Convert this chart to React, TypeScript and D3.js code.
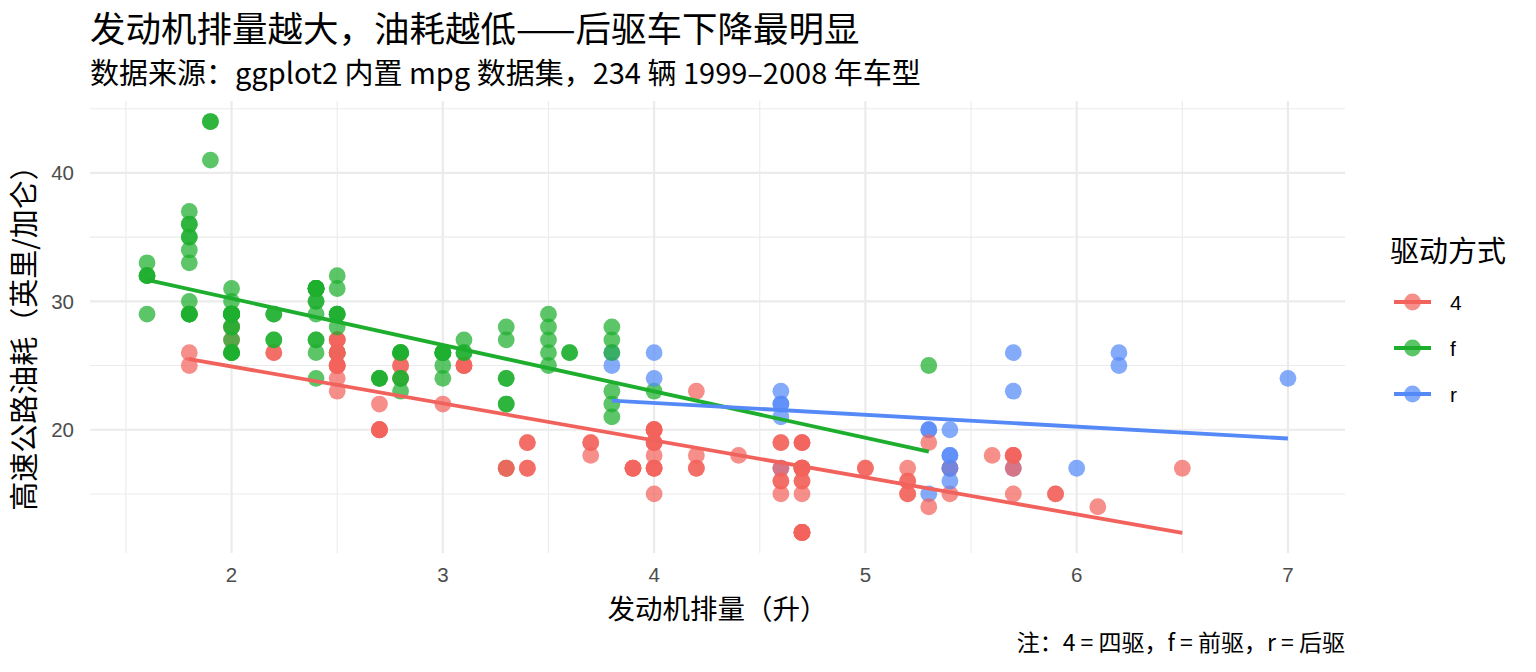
import React from "react";
import * as d3 from "d3";

const WIDTH = 1536;
const HEIGHT = 672;
const MARGIN = { top: 101, right: 191, bottom: 119, left: 90 };
const FONT = "'Noto Sans CJK SC', 'Noto Sans', sans-serif";
const FONT_TICK = "'Liberation Sans', Arial, sans-serif";

// mpg: displ, hwy, drv (dataset order)
const displ = [
  1.8, 1.8, 2.0, 2.0, 2.8, 2.8, 3.1, 1.8, 1.8, 2.0, 2.0, 2.8, 2.8, 3.1, 3.1, 2.8, 3.1, 4.2,
  5.3, 5.3, 5.3, 5.7, 6.0, 5.7, 5.7, 6.2, 6.2, 7.0, 5.3, 5.3, 5.7, 6.5,
  2.4, 2.4, 3.1, 3.5, 3.6, 2.4, 3.0, 3.3, 3.3, 3.3, 3.3, 3.3, 3.8, 3.8, 3.8, 4.0,
  3.7, 3.7, 3.9, 3.9, 4.7, 4.7, 4.7, 5.2, 5.2, 3.9, 4.7, 4.7, 4.7, 5.2, 5.7, 5.9,
  4.7, 4.7, 4.7, 4.7, 4.7, 4.7, 5.2, 5.2, 5.7, 5.9, 4.6, 5.4, 5.4,
  4.0, 4.0, 4.0, 4.0, 4.6, 5.0, 4.2, 4.2, 4.6, 4.6, 4.6, 5.4, 5.4,
  3.8, 3.8, 4.0, 4.0, 4.6, 4.6, 4.6, 4.6, 5.4,
  1.6, 1.6, 1.6, 1.6, 1.6, 1.8, 1.8, 1.8, 2.0,
  2.4, 2.4, 2.4, 2.4, 2.5, 2.5, 3.3, 2.0, 2.0, 2.0, 2.0, 2.7, 2.7, 2.7,
  3.0, 3.7, 4.0, 4.7, 4.7, 4.7, 5.7, 6.1, 4.0, 4.2, 4.4, 4.6, 5.4, 5.4, 5.4,
  4.0, 4.0, 4.6, 5.0, 2.4, 2.4, 2.5, 2.5, 3.5, 3.5, 3.0, 3.0, 3.5, 3.3, 3.3, 4.0, 5.6,
  3.1, 3.8, 3.8, 3.8, 5.3, 2.5, 2.5, 2.5, 2.5, 2.5, 2.5, 2.2, 2.2, 2.5, 2.5, 2.5, 2.5, 2.5, 2.5,
  2.7, 2.7, 3.4, 3.4, 4.0, 4.7, 2.2, 2.2, 2.4, 2.4, 3.0, 3.0, 3.5, 2.2, 2.2, 2.4, 2.4, 3.0, 3.0, 3.3,
  1.8, 1.8, 1.8, 1.8, 1.8, 4.7, 5.7, 2.7, 2.7, 2.7, 3.4, 3.4, 4.0, 4.0,
  2.0, 2.0, 2.0, 2.0, 2.8, 1.9, 2.0, 2.0, 2.0, 2.0, 2.5, 2.5, 2.8, 2.8,
  1.9, 1.9, 2.0, 2.0, 2.5, 2.5, 1.8, 1.8, 2.0, 2.0, 2.8, 2.8, 3.6,
];
const hwy = [
  29, 29, 31, 30, 26, 26, 27, 26, 25, 28, 27, 25, 25, 25, 25, 24, 25, 23,
  20, 15, 20, 17, 17, 26, 23, 26, 25, 24, 19, 14, 15, 17,
  27, 30, 26, 29, 26, 24, 24, 22, 22, 24, 24, 17, 22, 21, 23, 23,
  19, 18, 17, 17, 19, 19, 12, 17, 15, 17, 17, 12, 17, 16, 18, 15,
  16, 12, 17, 17, 16, 12, 15, 16, 17, 15, 17, 17, 18,
  17, 19, 19, 17, 19, 17, 17, 17, 16, 16, 17, 15, 17,
  26, 25, 26, 24, 21, 22, 23, 22, 20,
  33, 32, 32, 29, 32, 34, 36, 36, 29,
  26, 27, 30, 31, 26, 26, 28, 26, 29, 28, 27, 24, 24, 24,
  22, 19, 20, 17, 12, 19, 18, 14, 15, 18, 18, 15, 17, 16, 18,
  17, 19, 19, 17, 29, 31, 31, 32, 27, 26, 26, 25, 25, 17, 17, 20, 18,
  26, 26, 27, 28, 25, 25, 24, 27, 25, 26, 23, 26, 26, 26, 26, 27, 25, 25, 27,
  20, 20, 19, 17, 20, 17, 29, 27, 31, 31, 26, 26, 28, 27, 29, 31, 31, 26, 26, 27,
  30, 33, 35, 37, 35, 15, 18, 20, 20, 22, 17, 19, 18, 20,
  29, 26, 29, 29, 24, 44, 29, 26, 29, 29, 29, 29, 23, 24,
  44, 41, 29, 26, 28, 29, 29, 29, 28, 29, 26, 26, 26,
];
const drv = [
  "f", "f", "f", "f", "f", "f", "f", "4", "4", "4", "4", "4", "4", "4", "4", "4", "4", "4",
  "r", "r", "r", "r", "r", "r", "r", "r", "r", "r", "4", "4", "4", "4",
  "f", "f", "f", "f", "f", "f", "f", "f", "f", "f", "f", "f", "f", "f", "f", "f",
  "4", "4", "4", "4", "4", "4", "4", "4", "4", "4", "4", "4", "4", "4", "4", "4",
  "4", "4", "4", "4", "4", "4", "4", "4", "4", "4", "r", "r", "r",
  "4", "4", "4", "4", "4", "4", "4", "4", "4", "4", "4", "4", "4",
  "r", "r", "r", "r", "r", "r", "r", "r", "r",
  "f", "f", "f", "f", "f", "f", "f", "f", "f",
  "f", "f", "f", "f", "f", "f", "f", "f", "f", "f", "f", "f", "f", "f",
  "4", "4", "4", "4", "4", "4", "4", "4", "4", "4", "4", "4", "r", "r", "r",
  "4", "4", "4", "4", "f", "f", "f", "f", "f", "f", "f", "f", "f", "4", "4", "4", "4",
  "f", "f", "f", "f", "f", "4", "4", "4", "4", "4", "4", "4", "4", "4", "4", "4", "4", "4", "4",
  "4", "4", "4", "4", "4", "4", "f", "f", "f", "f", "f", "f", "f", "f", "f", "f", "f", "f", "f", "f",
  "f", "f", "f", "f", "f", "4", "4", "4", "4", "4", "4", "4", "4", "4",
  "f", "f", "f", "f", "f", "f", "f", "f", "f", "f", "f", "f", "f", "f",
  "f", "f", "f", "f", "f", "f", "f", "f", "f", "f", "f", "f", "f",
];

const drvLevels = ["4", "f", "r"];
const drvColors = ["#F2625C", "#1DAE2E", "#5589F8"];
const xTicks = [2, 3, 4, 5, 6, 7];
const yTicks = [20, 30, 40];

const TITLE = "发动机排量越大，油耗越低——后驱车下降最明显";
const SUBTITLE = "数据来源：ggplot2 内置 mpg 数据集，234 辆 1999–2008 年车型";
const X_TITLE = "发动机排量（升）";
const Y_TITLE = "高速公路油耗（英里/加仑）";
const LEGEND_TITLE = "驱动方式";
const CAPTION = "注：4 = 四驱，f = 前驱，r = 后驱";

type Pt = { x: number; y: number; d: string };

const points: Pt[] = displ.map((x, i) => ({ x, y: hwy[i], d: drv[i] }));

// least squares fit per group, drawn over that group's x range
const fitLine = (pts: Pt[]) => {
  const mx = d3.mean(pts, (p) => p.x) || 0;
  const my = d3.mean(pts, (p) => p.y) || 0;
  const sxy = d3.sum(pts, (p) => (p.x - mx) * (p.y - my));
  const sxx = d3.sum(pts, (p) => (p.x - mx) * (p.x - mx));
  const b = sxy / sxx;
  const a = my - b * mx;
  const [x0, x1] = d3.extent(pts, (p) => p.x) as [number, number];
  return [
    [x0, a + b * x0],
    [x1, a + b * x1],
  ];
};

export default function App() {
  const boundsWidth = WIDTH - MARGIN.left - MARGIN.right;
  const boundsHeight = HEIGHT - MARGIN.top - MARGIN.bottom;

  const xExt = d3.extent(displ) as [number, number];
  const yExt = d3.extent(hwy) as [number, number];
  const xPad = (xExt[1] - xExt[0]) * 0.05;
  const yPad = (yExt[1] - yExt[0]) * 0.05;

  const xScale = d3
    .scaleLinear()
    .domain([xExt[0] - xPad, xExt[1] + xPad])
    .range([0, boundsWidth]);
  const yScale = d3
    .scaleLinear()
    .domain([yExt[0] - yPad, yExt[1] + yPad])
    .range([boundsHeight, 0]);
  const color = d3.scaleOrdinal<string, string>().domain(drvLevels).range(drvColors);

  const xMinor = d3.range(1.5, 7.3, 1);
  const yMinor = [15, 25, 35, 45];

  const line = d3
    .line<number[]>()
    .x((d) => xScale(d[0]))
    .y((d) => yScale(d[1]));

  return (
    <svg width={WIDTH} height={HEIGHT} style={{ display: "block", margin: "-8px" }} fontFamily={FONT}>
      <rect width={WIDTH} height={HEIGHT} fill="#ffffff" />
      <text x={90} y={42} fontSize={35.5} fill="#000">
        {TITLE}
      </text>
      <text x={90} y={84} fontSize={29} fill="#000">
        {SUBTITLE}
      </text>

      <g transform={`translate(${MARGIN.left},${MARGIN.top})`}>
        {xMinor.map((t) => (
          <line key={"xm" + t} x1={xScale(t)} x2={xScale(t)} y1={0} y2={boundsHeight} stroke="#ebebeb" strokeWidth={1.1} />
        ))}
        {yMinor.map((t) => (
          <line key={"ym" + t} x1={0} x2={boundsWidth} y1={yScale(t)} y2={yScale(t)} stroke="#ebebeb" strokeWidth={1.1} />
        ))}
        {xTicks.map((t) => (
          <line key={"xg" + t} x1={xScale(t)} x2={xScale(t)} y1={0} y2={boundsHeight} stroke="#ebebeb" strokeWidth={2.2} />
        ))}
        {yTicks.map((t) => (
          <line key={"yg" + t} x1={0} x2={boundsWidth} y1={yScale(t)} y2={yScale(t)} stroke="#ebebeb" strokeWidth={2.2} />
        ))}

        {points.map((p, i) => (
          <circle key={i} cx={xScale(p.x)} cy={yScale(p.y)} r={8.4} fill={color(p.d)} opacity={0.72} />
        ))}

        {drvLevels.map((lv) => (
          <path
            key={"fit" + lv}
            d={line(fitLine(points.filter((p) => p.d === lv))) || ""}
            fill="none"
            stroke={color(lv)}
            strokeWidth={3.8}
          />
        ))}

        {xTicks.map((t) => (
          <text key={"xt" + t} x={xScale(t)} y={boundsHeight + 29} textAnchor="middle" fontSize={20.5} fill="#4d4d4d" fontFamily={FONT_TICK}>
            {t}
          </text>
        ))}
        {yTicks.map((t) => (
          <text key={"yt" + t} x={-16} y={yScale(t)} dy="0.36em" textAnchor="end" fontSize={20.5} fill="#4d4d4d" fontFamily={FONT_TICK}>
            {t}
          </text>
        ))}
      </g>

      <text x={MARGIN.left + boundsWidth / 2} y={619} textAnchor="middle" fontSize={27.5} fill="#000">
        {X_TITLE}
      </text>
      <text
        transform={`translate(35,${MARGIN.top + boundsHeight / 2 + 4}) rotate(-90)`}
        textAnchor="middle"
        fontSize={29}
        fill="#000"
      >
        {Y_TITLE}
      </text>
      <text x={MARGIN.left + boundsWidth} y={651} textAnchor="end" fontSize={23} fill="#000">
        {CAPTION}
      </text>

      <g>
        <text x={1390} y={262} fontSize={29} fill="#000">
          {LEGEND_TITLE}
        </text>
        {drvLevels.map((lv, i) => {
          const cy = 302 + i * 46;
          return (
            <g key={"lg" + lv}>
              <line x1={1394} x2={1431} y1={cy} y2={cy} stroke={color(lv)} strokeWidth={3.8} />
              <circle cx={1412.5} cy={cy} r={8.4} fill={color(lv)} opacity={0.72} />
              <text x={1450} y={cy} dy="0.36em" fontSize={21} fill="#000" fontFamily={FONT_TICK}>
                {lv}
              </text>
            </g>
          );
        })}
      </g>
    </svg>
  );
}
